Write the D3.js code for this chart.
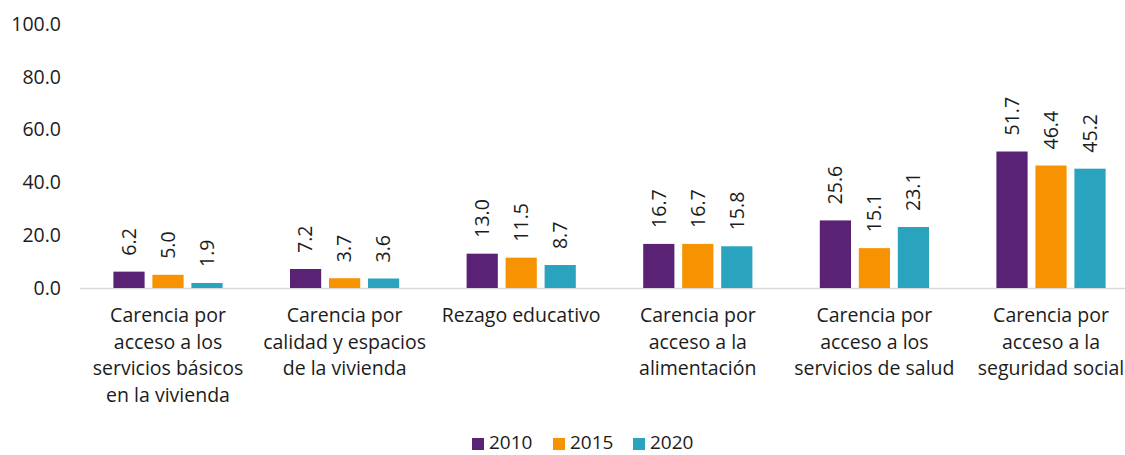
<!DOCTYPE html>
<html><head><meta charset="utf-8">
<script src="https://cdn.jsdelivr.net/npm/d3@7"></script>
<style>
html,body{margin:0;padding:0;background:#fff;}
svg{display:block;font-family:"Open Sans",sans-serif;}
</style></head>
<body><svg id="chart" width="1125" height="455"></svg>
<script>
const categories = [
  ["Carencia por","acceso a los","servicios básicos","en la vivienda"],
  ["Carencia por","calidad y espacios","de la vivienda"],
  ["Rezago educativo"],
  ["Carencia por","acceso a la","alimentación"],
  ["Carencia por","acceso a los","servicios de salud"],
  ["Carencia por","acceso a la","seguridad social"]
];
const series = ["2010","2015","2020"];
const values2010 = [6.2, 7.2, 13.0, 16.7, 25.6, 51.7];
const values2015 = [5.0, 3.7, 11.5, 16.7, 15.1, 46.4];
const values2020 = [1.9, 3.6, 8.7, 15.8, 23.1, 45.2];
const yTicks = [0, 20, 40, 60, 80, 100];
const colors = ["#5A2274", "#F79300", "#2AA3BF"];

const allValues = [values2010, values2015, values2020];
const svg = d3.select("#chart");
const catIdx = categories.map((d,i)=>i);
const textColor = "#1c1c1c";

const x0 = d3.scaleBand().domain(catIdx).range([79.7, 1139.3]).padding(0);
const x1 = d3.scaleBand().domain(series).range([-58.5, 58.5]).paddingInner(0.2).paddingOuter(0.1);
const y = d3.scaleLinear().domain([0, 100]).range([288, 24]);

// y axis
const yAxis = d3.axisLeft(y).tickValues(yTicks).tickFormat(d3.format(".1f")).tickSize(0).tickPadding(0);
const ga = svg.append("g").attr("transform","translate(61,0)").call(yAxis);
ga.select(".domain").remove();
ga.selectAll("text").attr("font-size","19.5px").attr("fill",textColor).attr("font-family","Open Sans, sans-serif");

// baseline
svg.append("line").attr("x1",79.7).attr("x2",1125).attr("y1",y(0)+0.5).attr("y2",y(0)+0.5)
  .attr("stroke","#D9D9D9").attr("stroke-width",1.5);

// bars
series.forEach((s, si) => {
  const g = svg.append("g");
  g.selectAll("rect").data(allValues[si]).join("rect")
    .attr("x",(d,i)=>x0(i)+x0.bandwidth()/2+x1(s))
    .attr("width",x1.bandwidth())
    .attr("y",d=>y(d))
    .attr("height",d=>y(0)-y(d))
    .attr("fill",colors[si]);
  g.selectAll("text").data(allValues[si]).join("text")
    .attr("transform",(d,i)=>`translate(${x0(i)+x0.bandwidth()/2+x1(s)+x1.bandwidth()/2},${y(d)-16}) rotate(-90)`)
    .attr("dy","0.35em")
    .attr("text-anchor","start")
    .attr("font-size","19.5px")
    .attr("fill",textColor)
    .text(d=>d3.format(".1f")(d));
});

// category labels
const cl = svg.append("g");
categories.forEach((lines,i)=>{
  const t = cl.append("text").attr("text-anchor","middle").attr("font-size","19.5px").attr("fill",textColor);
  lines.forEach((ln,j)=>{
    t.append("tspan").attr("x",x0(i)+x0.bandwidth()/2).attr("y",322+j*26.7).text(ln);
  });
});

// legend
const legX = [472, 553, 633];
series.forEach((s,si)=>{
  svg.append("rect").attr("x",legX[si]).attr("y",438).attr("width",12).attr("height",12).attr("fill",colors[si]);
  svg.append("text").attr("x",legX[si]+17).attr("y",449).attr("font-size","19px").attr("fill",textColor).text(s);
});
</script></body></html>
